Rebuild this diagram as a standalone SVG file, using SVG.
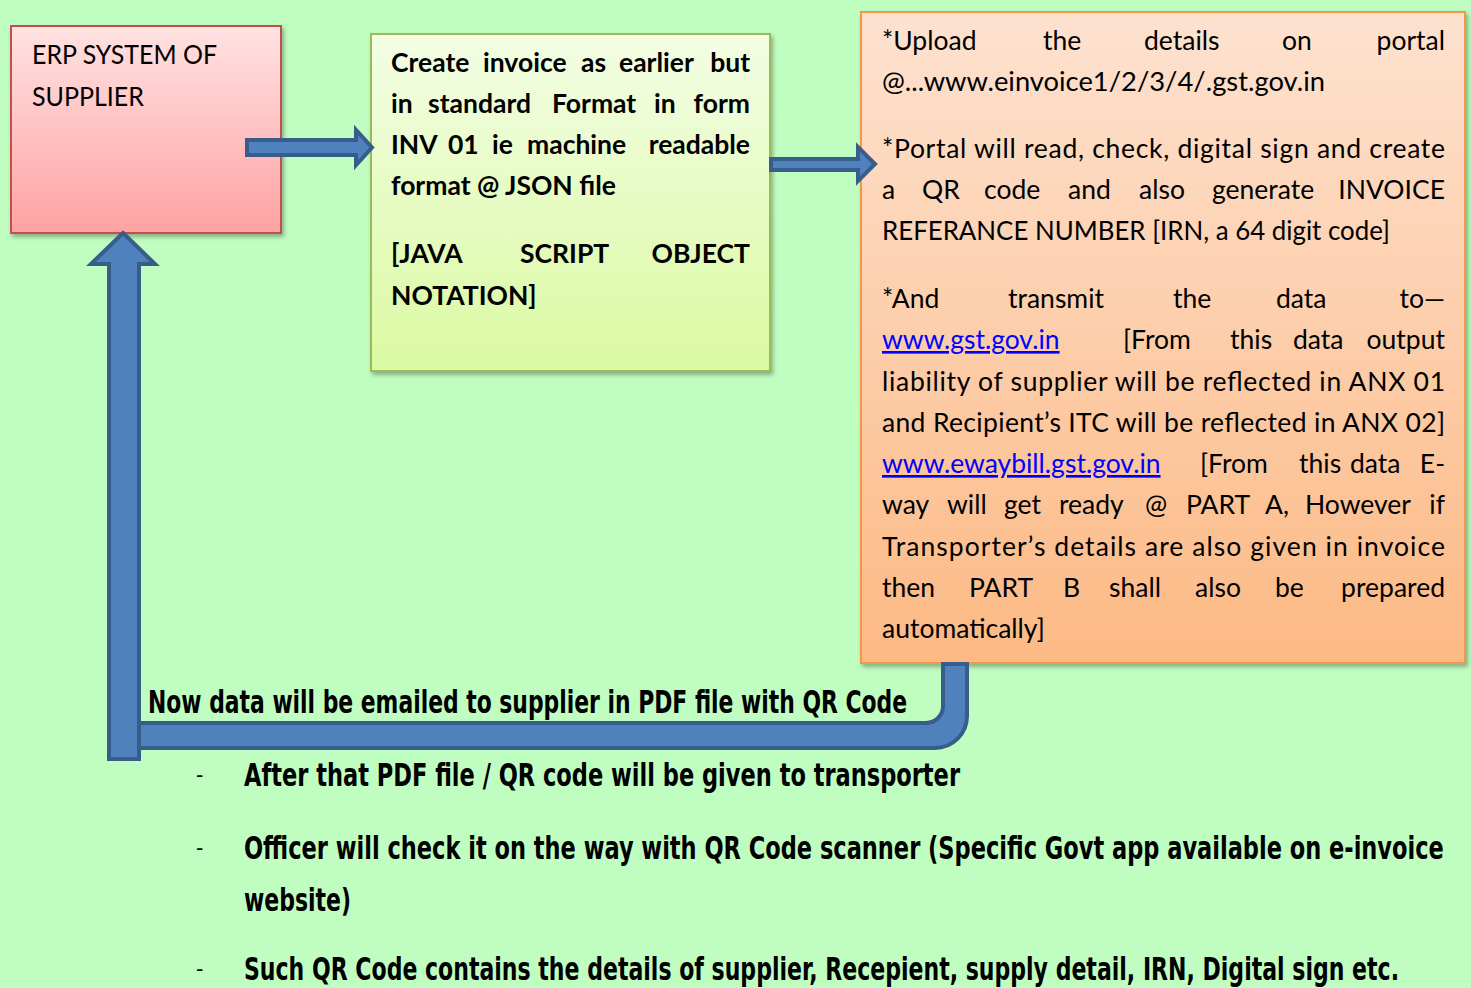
<svg xmlns="http://www.w3.org/2000/svg" width="1471" height="988" viewBox="0 0 1471 988">
<defs>
<linearGradient id="gRed" x1="0" y1="0" x2="0" y2="1"><stop offset="0" stop-color="#FFE2E2"/><stop offset="1" stop-color="#FFA2A2"/></linearGradient>
<linearGradient id="gGreen" x1="0" y1="0" x2="0" y2="1"><stop offset="0" stop-color="#F3FDE4"/><stop offset="1" stop-color="#DAFAA2"/></linearGradient>
<linearGradient id="gOrange" x1="0" y1="0" x2="0" y2="1"><stop offset="0" stop-color="#FDE2D0"/><stop offset="1" stop-color="#FCB984"/></linearGradient>
<filter id="sh" x="-5%" y="-5%" width="115%" height="115%"><feDropShadow dx="2" dy="3" stdDeviation="2" flood-color="#000" flood-opacity="0.3"/></filter>
</defs>
<style>
.box-text{font-family:Lato,"Open Sans","Liberation Sans",sans-serif;font-size:26.5px;fill:#000}
.bold{font-weight:bold}
.link{fill:#0000FF;text-decoration:underline}
.arrow{fill:#4F81BD;stroke:#385D8A;stroke-width:4;stroke-linejoin:miter}
.cond{font-family:"DejaVu Sans Condensed","DejaVu Sans","Liberation Sans",sans-serif;font-stretch:condensed;font-weight:bold;font-size:32px;fill:#000}
.dash{font-family:"Liberation Sans",sans-serif;font-size:22px;fill:#000}
</style>
<rect x="0" y="0" width="1471" height="988" fill="#C0FDC0"/>

<g id="node-erp">
<rect x="11" y="26" width="270" height="207" fill="url(#gRed)" stroke="#C0504D" stroke-width="2" filter="url(#sh)"/>
<text class="box-text" x="32" y="64" textLength="185" lengthAdjust="spacingAndGlyphs">ERP SYSTEM OF</text>
<text class="box-text" x="32" y="106" textLength="112" lengthAdjust="spacingAndGlyphs">SUPPLIER</text>
</g>

<g id="node-invoice">
<rect x="371" y="34" width="399" height="337" fill="url(#gGreen)" stroke="#9BBB59" stroke-width="2" filter="url(#sh)"/>
<text class="box-text bold" y="72"><tspan x="391">Create</tspan><tspan x="483">invoice</tspan><tspan x="581">as</tspan><tspan x="619">earlier</tspan><tspan x="750" text-anchor="end">but</tspan></text>
<text class="box-text bold" y="113"><tspan x="391">in</tspan><tspan x="428">standard</tspan><tspan x="552">Format</tspan><tspan x="654">in</tspan><tspan x="750" text-anchor="end">form</tspan></text>
<text class="box-text bold" y="154"><tspan x="391">INV</tspan><tspan x="448">01</tspan><tspan x="492">ie</tspan><tspan x="527">machine</tspan><tspan x="750" text-anchor="end">readable</tspan></text>
<text class="box-text bold" x="391" y="195">format @ JSON file</text>
<text class="box-text bold" y="263"><tspan x="391">[JAVA</tspan><tspan x="520">SCRIPT</tspan><tspan x="750" text-anchor="end">OBJECT</tspan></text>
<text class="box-text bold" x="391" y="305">NOTATION]</text>
</g>

<g id="node-portal">
<rect x="861" y="12" width="604" height="651" fill="url(#gOrange)" stroke="#F79646" stroke-width="2" filter="url(#sh)"/>
<text class="box-text" y="50"><tspan x="882">*Upload</tspan><tspan x="1043">the</tspan><tspan x="1144">details</tspan><tspan x="1282">on</tspan><tspan x="1445" text-anchor="end">portal</tspan></text>
<text class="box-text" x="882" y="91" textLength="443" lengthAdjust="spacingAndGlyphs">@...www.einvoice1/2/3/4/.gst.gov.in</text>
<text class="box-text" x="882" y="158" textLength="563" lengthAdjust="spacing">*Portal will read, check, digital sign and create</text>
<text class="box-text" y="199"><tspan x="882">a</tspan><tspan x="922">QR</tspan><tspan x="984">code</tspan><tspan x="1068">and</tspan><tspan x="1139">also</tspan><tspan x="1212">generate</tspan><tspan x="1445" text-anchor="end">INVOICE</tspan></text>
<text class="box-text" x="882" y="240" textLength="508" lengthAdjust="spacingAndGlyphs">REFERANCE NUMBER [IRN, a 64 digit code]</text>
<text class="box-text" y="308"><tspan x="882">*And</tspan><tspan x="1008">transmit</tspan><tspan x="1173">the</tspan><tspan x="1276">data</tspan><tspan x="1445" text-anchor="end">to—</tspan></text>
<text class="box-text" y="349"><tspan x="882" class="link">www.gst.gov.in</tspan><tspan x="1123">[From</tspan><tspan x="1230">this</tspan><tspan x="1293">data</tspan><tspan x="1445" text-anchor="end">output</tspan></text>
<text class="box-text" x="882" y="391" textLength="563" lengthAdjust="spacing">liability of supplier will be reflected in ANX 01</text>
<text class="box-text" x="882" y="432" textLength="563" lengthAdjust="spacing">and Recipient’s ITC will be reflected in ANX 02]</text>
<text class="box-text" y="473"><tspan x="882" class="link">www.ewaybill.gst.gov.in</tspan><tspan x="1200">[From</tspan><tspan x="1299">this</tspan><tspan x="1350">data</tspan><tspan x="1445" text-anchor="end">E-</tspan></text>
<text class="box-text" y="514"><tspan x="882">way</tspan><tspan x="947">will</tspan><tspan x="1004">get</tspan><tspan x="1059">ready</tspan><tspan x="1145">@</tspan><tspan x="1186">PART</tspan><tspan x="1265">A,</tspan><tspan x="1305">However</tspan><tspan x="1445" text-anchor="end">if</tspan></text>
<text class="box-text" x="882" y="556" textLength="563" lengthAdjust="spacing">Transporter’s details are also given in invoice</text>
<text class="box-text" y="597"><tspan x="882">then</tspan><tspan x="969">PART</tspan><tspan x="1063">B</tspan><tspan x="1109">shall</tspan><tspan x="1195">also</tspan><tspan x="1275">be</tspan><tspan x="1445" text-anchor="end">prepared</tspan></text>
<text class="box-text" x="882" y="638">automatically]</text>
</g>

<g id="connectors">
<path class="arrow" d="M247 140 L356 140 L356 130 L372 147.5 L356 165 L356 155 L247 155 Z"/>
<path class="arrow" d="M771 159 L858 159 L858 147 L875 164 L858 181 L858 170 L771 170 Z"/>
<path class="arrow" d="M943 664 L967 664 L967 716 A32 32 0 0 1 935 748 L139 748 L139 723 L926 723 A17 17 0 0 0 943 706 Z"/>
<path class="arrow" d="M123 233 L155 264 L139 264 L139 759 L109 759 L109 264 L91 264 Z"/>
</g>

<g id="notes">
<text class="cond" x="148" y="713" textLength="759" lengthAdjust="spacingAndGlyphs">Now data will be emailed to supplier in PDF file with QR Code</text>
<text class="dash" x="196" y="782">-</text>
<text class="cond" x="244" y="786" textLength="716" lengthAdjust="spacingAndGlyphs">After that PDF file / QR code will be given to transporter</text>
<text class="dash" x="196" y="855">-</text>
<text class="cond" transform="translate(244,859) scale(0.7,1)" x="0" y="0" textLength="1714" lengthAdjust="spacingAndGlyphs">Officer will check it on the way with QR Code scanner (Specific Govt app available on e-invoice</text>
<text class="cond" x="244" y="911" textLength="107" lengthAdjust="spacingAndGlyphs">website)</text>
<text class="dash" x="196" y="976">-</text>
<text class="cond" transform="translate(244,980) scale(0.7,1)" x="0" y="0" textLength="1650" lengthAdjust="spacingAndGlyphs">Such QR Code contains the details of supplier, Recepient, supply detail, IRN, Digital sign etc.</text>
</g>
</svg>
